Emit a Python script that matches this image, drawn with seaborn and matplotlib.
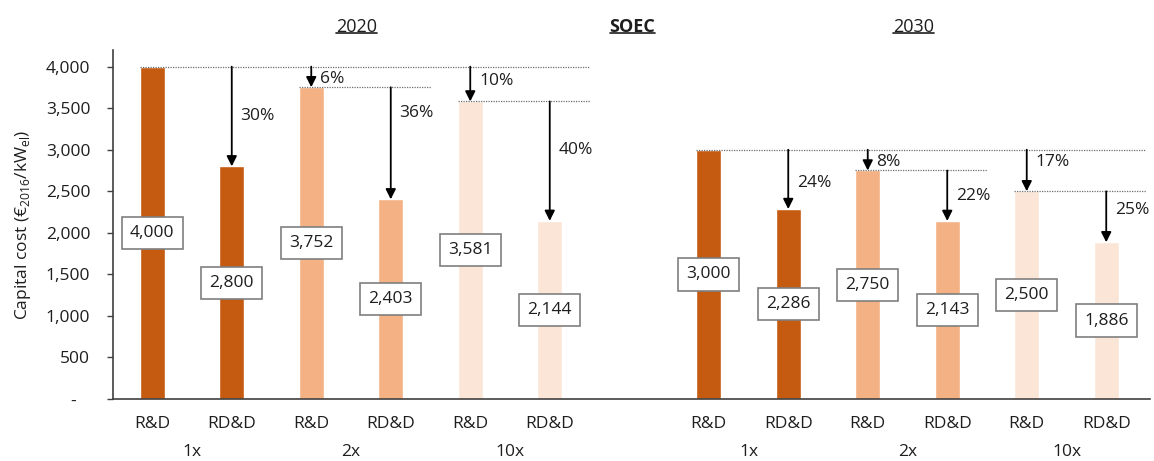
import matplotlib
matplotlib.use("Agg")
import matplotlib.pyplot as plt
from matplotlib.lines import Line2D
import numpy as np
import pandas as pd
import seaborn as sns

# ---- data -------------------------------------------------------------
years = ["2020", "2030"]
tiers = ["1x", "1x", "2x", "2x", "10x", "10x"]
programmes = ["R&D", "RD&D", "R&D", "RD&D", "R&D", "RD&D"]
cost_2020 = [4000, 2800, 3752, 2403, 3581, 2144]
cost_2030 = [3000, 2286, 2750, 2143, 2500, 1886]
# reduction arrows: reference bar index for each bar and the stated % reduction
reduction_refs = [None, 0, 0, 2, 0, 4]
pct_2020 = [None, 30, 6, 36, 10, 40]
pct_2030 = [None, 24, 8, 22, 17, 25]
y_ticks = [0, 500, 1000, 1500, 2000, 2500, 3000, 3500, 4000]
y_tick_labels = ["-   ", "500", "1,000", "1,500", "2,000", "2,500", "3,000", "3,500", "4,000"]

# ---- layout -----------------------------------------------------------
group_offset = {"2020": 0, "2030": 7}
bar_width = 0.32
# vertical placement of the % labels (data units below the reference level)
pct_drop_2020 = [None, 590, 145, 305, 168, 590]
pct_drop_2030 = [None, 405, 153, 312, 153, 230]
tier_colors = {"1x": "#C55A11", "2x": "#F4B183", "10x": "#FBE5D6"}
text_color = "#1e1e1e"

sns.set_theme(style="white")
plt.rcParams["font.family"] = ["Open Sans", "DejaVu Sans"]
plt.rcParams["mathtext.fontset"] = "custom"
plt.rcParams["mathtext.rm"] = "Open Sans"
FS = 12.5

rows = []
for yr, vals in zip(years, [cost_2020, cost_2030]):
    for i, (t, p, v) in enumerate(zip(tiers, programmes, vals)):
        rows.append({"year": yr, "pos": group_offset[yr] + i, "tier": t,
                     "programme": p, "cost": v, "idx": i})
df = pd.DataFrame(rows)

fig = plt.figure(figsize=(11.54, 4.61), dpi=100)
ax = fig.add_axes([0.0975, 0.1345, 0.899, 0.757])

sns.barplot(data=df, x="pos", y="cost", hue="tier", palette=tier_colors,
            native_scale=True, dodge=False, width=bar_width, saturation=1,
            legend=False, ax=ax)

ax.set_xlim(-0.5, 12.55)
ax.set_ylim(0, 4200)
ax.set_yticks(y_ticks)
ax.set_yticklabels(y_tick_labels, fontsize=FS, color=text_color)
ax.tick_params(axis="y", length=4, width=1, color="#404040", pad=12, left=True)
ax.tick_params(axis="x", length=0, pad=12)
ax.set_xticks(df["pos"])
ax.set_xticklabels(df["programme"], fontsize=FS, color=text_color)
for s in ["top", "right"]:
    ax.spines[s].set_visible(False)
for s in ["left", "bottom"]:
    ax.spines[s].set_color("#404040")
    ax.spines[s].set_linewidth(1.2)
ax.set_xlabel("")
ax.set_ylabel(r"Capital cost (€$_\mathregular{2016}$/kW$_\mathregular{el}$)",
              fontsize=FS, color=text_color, labelpad=9)

# tier labels beneath each pair of bars
for yr in years:
    sub = df[df["year"] == yr]
    for t in ["1x", "2x", "10x"]:
        xc = sub[sub["tier"] == t]["pos"].mean()
        ax.annotate(t, xy=(xc, 0), xycoords=("data", "axes fraction"),
                    xytext=(0, -38.5), textcoords="offset points",
                    ha="center", va="center", fontsize=FS, color=text_color)

# value boxes at half bar height, reduction arrows and reference lines
for yr, vals, pcts, drops in zip(years, [cost_2020, cost_2030],
                                 [pct_2020, pct_2030], [pct_drop_2020, pct_drop_2030]):
    off = group_offset[yr]
    for i, v in enumerate(vals):
        ax.text(off + i, v / 2, f"{v:,}", ha="center", va="center",
                fontsize=FS, color=text_color, zorder=5,
                bbox=dict(boxstyle="square,pad=0.47", fc="white",
                          ec="#7f7f7f", lw=1.2))
    # dotted reference lines run to the last bar that depends on them
    for r in sorted(set(x for x in reduction_refs if x is not None)):
        deps = {r}
        changed = True
        while changed:
            changed = False
            for j, ref in enumerate(reduction_refs):
                if ref in deps and j not in deps:
                    deps.add(j)
                    changed = True
        end = max(deps) + 0.5
        ax.plot([off + r - bar_width / 2, off + end], [vals[r], vals[r]],
                color="#6e6e6e", lw=0.9, ls=(0, (1, 1)), zorder=3)
    for i, ref in enumerate(reduction_refs):
        if ref is None:
            continue
        ax.annotate("", xy=(off + i, vals[i]), xytext=(off + i, vals[ref]),
                    arrowprops=dict(arrowstyle="-|>", color="black", lw=1.3,
                                    mutation_scale=15, shrinkA=0, shrinkB=0),
                    zorder=4)
        ax.text(off + i + 0.11, vals[ref] - drops[i], f"{pcts[i]}%",
                ha="left", va="center", fontsize=FS, color=text_color)

# underlined headings
fig.canvas.draw()
renderer = fig.canvas.get_renderer()
head_y = 0.941
headings = []
for yr in years:
    xc = df[df["year"] == yr]["pos"].mean()
    xfig = fig.transFigure.inverted().transform(ax.transData.transform((xc, 0)))[0]
    headings.append(fig.text(xfig + 0.005, head_y, yr, ha="center", va="center",
                             fontsize=FS + 0.5, color=text_color))
headings.append(fig.text(0.548, head_y, "SOEC", ha="center", va="center",
                         fontsize=FS + 0.5, fontweight="bold", color=text_color))
fig.canvas.draw()
inv = fig.transFigure.inverted()
for h in headings:
    bb = h.get_window_extent(renderer)
    (x0, y0), (x1, y1) = inv.transform([(bb.x0, bb.y0), (bb.x1, bb.y1)])
    fig.add_artist(Line2D([x0, x1], [y0 + 0.006, y0 + 0.006],
                          transform=fig.transFigure, color=text_color, lw=1.2))

fig.savefig("out.png", dpi=100)
